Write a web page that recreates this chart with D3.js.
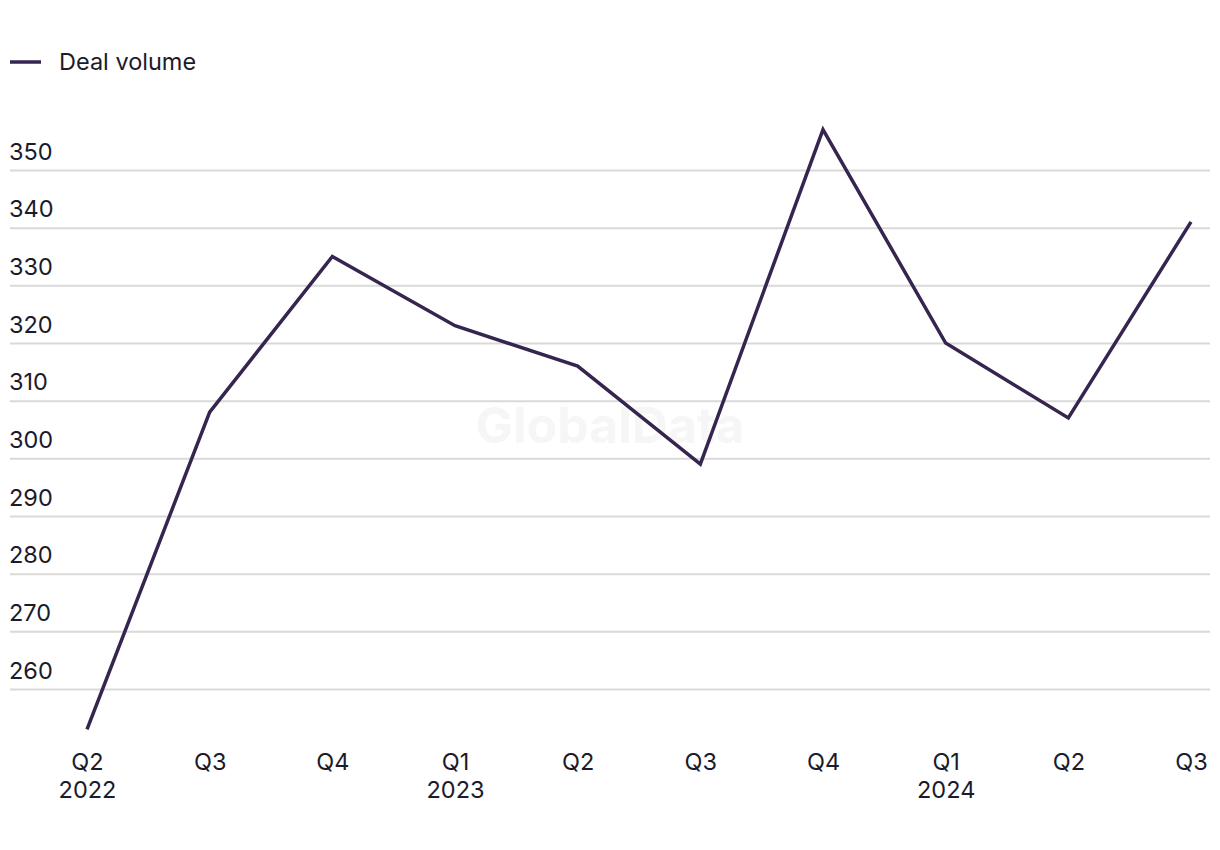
<!DOCTYPE html>
<html><head><meta charset="utf-8">
<script src="https://cdn.jsdelivr.net/npm/d3@7"></script>
<style>
html,body{margin:0;padding:0;background:#fff;}
svg text{font-family:Inter,"Noto Sans",sans-serif;}
</style></head>
<body>
<svg id="chart" width="1220" height="850"></svg>
<script>
const quarters = ["Q2","Q3","Q4","Q1","Q2","Q3","Q4","Q1","Q2","Q3"];
const years = ["2022","","","2023","","","","2024","",""];
const dealVolume = [253, 308, 335, 323, 316, 299, 357, 320, 307, 341];
const yTicks = [260, 270, 280, 290, 300, 310, 320, 330, 340, 350];
const seriesName = "Deal volume";

const svg = d3.select("#chart");
const lineColor = "#35254f", textColor = "#1b1b2b", gridColor = "#d9d9d9";
const fs = 23.5;

const x = d3.scalePoint().domain(d3.range(quarters.length)).range([87, 1191]);
const y = d3.scaleLinear().domain([260, 350]).range([689, 170]);

// watermark
svg.append("text").attr("x", 610).attr("y", 443).attr("text-anchor","middle")
  .attr("font-size", 50).attr("font-weight", 700).attr("fill", "#f6f6f6").text("GlobalData");

// grid
const yAxis = d3.axisLeft(y).tickValues(yTicks).tickSize(0).tickFormat(d3.format("d"));
const gy = svg.append("g").call(yAxis);
gy.select(".domain").remove();
gy.selectAll(".tick line").remove();
gy.selectAll(".tick").append("line").attr("x1", 10).attr("x2", 1210)
  .attr("stroke", gridColor).attr("stroke-width", 2);
gy.selectAll(".tick text").attr("x", 9).attr("dy", -11).attr("text-anchor","start")
  .attr("font-size", fs).attr("fill", textColor);

// x axis
const xAxis = d3.axisBottom(x).tickSize(0).tickFormat(i => quarters[i]);
const gx = svg.append("g").attr("transform","translate(0,742)").call(xAxis);
gx.select(".domain").remove();
gx.selectAll(".tick text").attr("font-size", fs).attr("fill", textColor).attr("dy", 25);
gx.selectAll(".tick").append("text").attr("text-anchor","middle").attr("font-size", fs)
  .attr("fill", textColor).attr("y", 0).attr("dy", 56).text(i => years[i]);

// line
const line = d3.line().x((d,i) => x(i)).y(d => y(d));
svg.append("path").datum(dealVolume).attr("d", line).attr("fill","none")
  .attr("stroke", lineColor).attr("stroke-width", 3.5).attr("stroke-linejoin","miter");

// legend
svg.append("line").attr("x1", 10).attr("x2", 41).attr("y1", 62).attr("y2", 62)
  .attr("stroke", lineColor).attr("stroke-width", 3.5);
svg.append("text").attr("x", 59).attr("y", 70).attr("font-size", fs).attr("fill", textColor).text(seriesName);
</script>
</body></html>
